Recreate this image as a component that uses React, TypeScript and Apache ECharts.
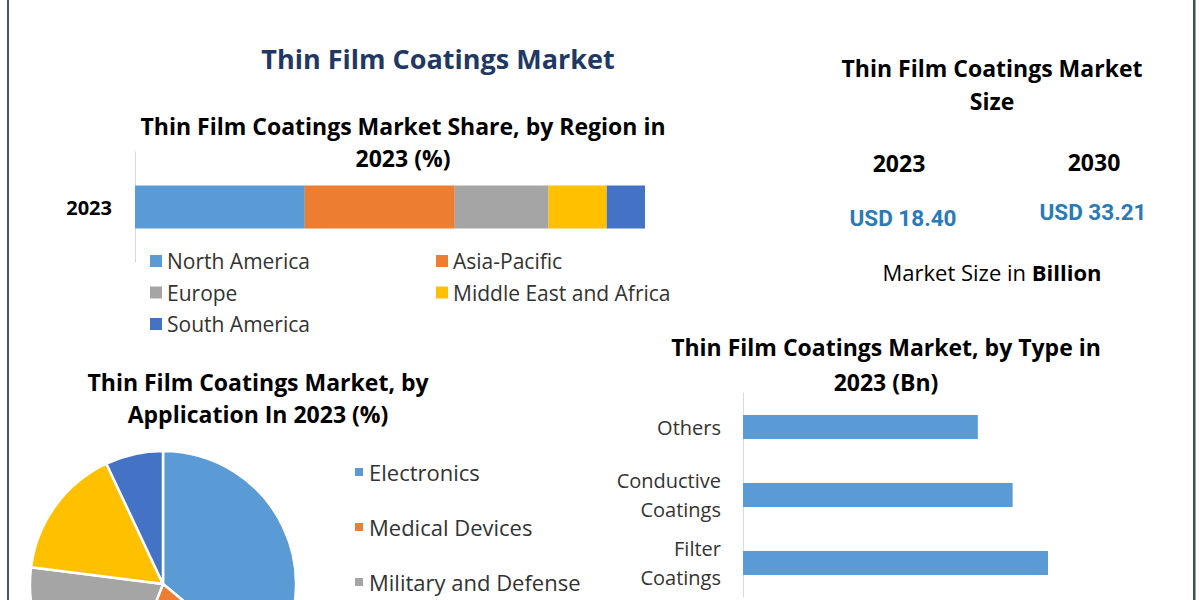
import React, { useEffect, useRef } from "react";
import * as echarts from "echarts";

// ---- Data ----
const regionYear = ["2023"];
const regionNames = ["North America", "Asia-Pacific", "Europe", "Middle East and Africa", "South America"];
const regionShares = [33.3, 29.4, 18.4, 11.4, 7.5];

const appNames = ["Electronics", "Medical Devices", "Military and Defense", "Optics", "Others"];
const appShares = [36, 20, 21, 16, 7];
const appLegendVisible = ["Electronics", "Medical Devices", "Military and Defense"];

const typeNames = ["Others", "Conductive\nCoatings", "Filter\nCoatings"];
const typeValues = [3.85, 4.42, 5.0];

const sizeYears = ["2023", "2030"];
const sizeValues = ["USD 18.40", "USD 33.21"];

const palette = ["#5B9BD5", "#ED7D31", "#A5A5A5", "#FFC000", "#4472C4"];
const FONT = "'Open Sans', Lato, sans-serif";

export default function App() {
  const ref = useRef<HTMLDivElement>(null);
  useEffect(() => {
    if (!ref.current) return;
    const chart = echarts.init(ref.current, null, { renderer: "svg" });

    const txt = (x: number, y: number, text: string, size: number, opts: any = {}) => ({
      type: "text",
      x,
      y,
      silent: true,
      style: {
        text,
        fill: opts.fill || "#000",
        fontSize: size,
        fontWeight: opts.weight || "bold",
        fontFamily: opts.family || FONT,
        align: opts.align || "center",
        verticalAlign: "middle",
      },
    });

    const legendText = { fontSize: 21, color: "#333333", lineHeight: 22, fontFamily: FONT };
    const pieLegendText = { fontSize: 22, color: "#333333", lineHeight: 22, fontFamily: FONT };

    const option: any = {
      animation: false,
      backgroundColor: "#ffffff",
      color: palette,
      textStyle: { fontFamily: FONT },
      grid: [
        { left: 135, top: 152, width: 510, height: 110 },
        { left: 743, top: 393, width: 427, height: 204 },
      ],
      xAxis: [
        { gridIndex: 0, type: "value", min: 0, max: 100, show: false },
        { gridIndex: 1, type: "value", min: 0, max: 7, show: false },
      ],
      yAxis: [
        {
          gridIndex: 0,
          type: "category",
          data: regionYear,
          axisLine: { show: true, lineStyle: { color: "#d9d9d9" } },
          axisTick: { show: false },
          axisLabel: { fontSize: 20, fontWeight: "bold", color: "#000", margin: 23, fontFamily: FONT },
        },
        {
          gridIndex: 1,
          type: "category",
          inverse: true,
          data: typeNames,
          axisLine: { show: true, lineStyle: { color: "#d9d9d9" } },
          axisTick: { show: false },
          axisLabel: {
            fontSize: 20,
            color: "#333333",
            margin: 22,
            lineHeight: 29,
            align: "right",
            fontFamily: FONT,
          },
        },
      ],
      legend: [
        {
          left: 150,
          top: 250,
          padding: 0,
          orient: "vertical",
          icon: "rect",
          itemWidth: 12,
          itemHeight: 12,
          itemGap: 9.5,
          data: ["North America", "Europe", "South America"],
          textStyle: legendText,
        },
        {
          left: 436,
          top: 250,
          padding: 0,
          orient: "vertical",
          icon: "rect",
          itemWidth: 12,
          itemHeight: 12,
          itemGap: 9.5,
          data: ["Asia-Pacific", "Middle East and Africa"],
          textStyle: legendText,
        },
        {
          left: 353,
          top: 461,
          padding: 0,
          orient: "vertical",
          icon: "rect",
          itemWidth: 10,
          itemHeight: 10,
          itemGap: 33,
          data: appLegendVisible,
          textStyle: pieLegendText,
        },
      ],
      series: [
        ...regionNames.map((name, i) => ({
          name,
          type: "bar",
          stack: "region",
          xAxisIndex: 0,
          yAxisIndex: 0,
          barWidth: 43,
          itemStyle: { color: palette[i] },
          data: [regionShares[i]],
        })),
        {
          name: "Type",
          type: "bar",
          xAxisIndex: 1,
          yAxisIndex: 1,
          barWidth: 24,
          itemStyle: { color: "#5B9BD5" },
          data: typeValues,
        },
        {
          name: "Application",
          type: "pie",
          center: [163, 584],
          radius: 133,
          startAngle: 90,
          clockwise: true,
          label: { show: false },
          labelLine: { show: false },
          itemStyle: { borderColor: "#ffffff", borderWidth: 2.5 },
          data: appNames.map((n, i) => ({ name: n, value: appShares[i], itemStyle: { color: palette[i] } })),
        },
      ],
      graphic: [
        { type: "rect", silent: true, shape: { x: 7, y: 0, width: 2, height: 600 }, style: { fill: "#44546A" } },
        { type: "rect", silent: true, shape: { x: 1193, y: 0, width: 2.5, height: 600 }, style: { fill: "#3F4F52" } },
        txt(438, 58, "Thin Film Coatings Market", 27, { fill: "#1F3864" }),
        txt(403, 126, "Thin Film Coatings Market Share, by Region in", 23),
        txt(403, 158, "2023 (%)", 23),
        txt(992, 68, "Thin Film Coatings Market", 23),
        txt(992, 101, "Size", 23),
        txt(899, 163, sizeYears[0], 23),
        txt(1094, 162, sizeYears[1], 23),
        txt(903, 218, sizeValues[0], 22.5, { fill: "#2A7AB8", family: "'Liberation Sans Narrow', 'Roboto', sans-serif" }),
        txt(1093, 212, sizeValues[1], 22.5, { fill: "#2A7AB8", family: "'Liberation Sans Narrow', 'Roboto', sans-serif" }),
        {
          type: "text",
          x: 992,
          y: 272,
          silent: true,
          style: {
            text: "{a|Market Size in }{b|Billion}",
            align: "center",
            verticalAlign: "middle",
            rich: {
              a: { fontSize: 22, fontFamily: FONT, fill: "#000", color: "#000" },
              b: { fontSize: 22, fontFamily: FONT, fontWeight: "bold", fill: "#000", color: "#000" },
            },
          },
        },
        txt(258, 382, "Thin Film Coatings Market, by", 23),
        txt(258, 414, "Application In 2023 (%)", 23),
        txt(886, 347, "Thin Film Coatings Market, by Type in", 23),
        txt(886, 382, "2023 (Bn)", 23),
      ],
    };
    chart.setOption(option);
    return () => chart.dispose();
  }, []);
  return (
    <div
      ref={ref}
      style={{ position: "fixed", left: 0, top: 0, width: 1200, height: 600, background: "#fff" }}
    />
  );
}
